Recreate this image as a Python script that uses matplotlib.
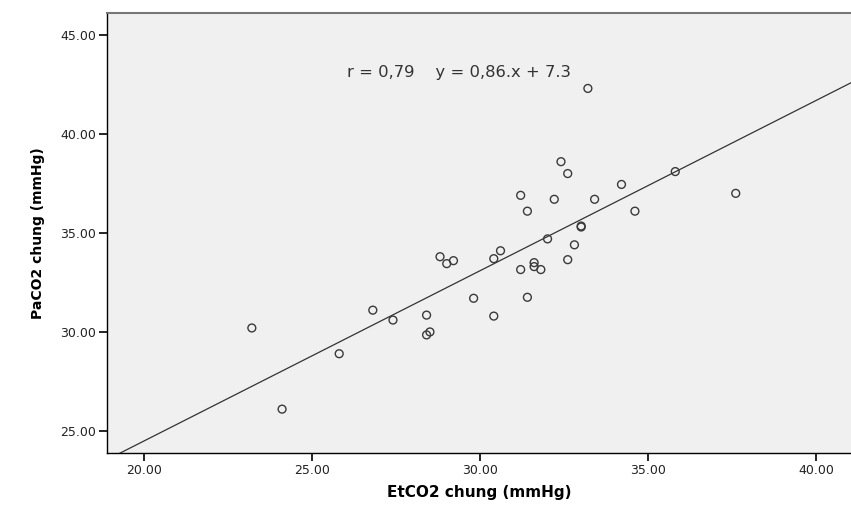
import matplotlib.pyplot as plt
import numpy as np

plt.rcParams['font.family'] = ['DejaVu Sans']

# EtCO2 (x) and PaCO2 (y), mmHg
etco2 = [23.2, 24.1, 25.8, 26.8, 27.4, 28.4, 28.5, 28.4, 28.8, 29.0, 29.2, 29.8,
         30.4, 30.4, 30.6, 31.2, 31.2, 31.4, 31.4, 31.6, 31.6, 31.8, 32.0, 32.2,
         32.4, 32.6, 32.6, 32.8, 33.0, 33.0, 33.2, 33.4, 34.2, 34.6, 35.8, 37.6]
paco2 = [30.2, 26.1, 28.9, 31.1, 30.6, 30.85, 30.0, 29.85, 33.8, 33.45, 33.6, 31.7,
         30.8, 33.7, 34.1, 33.15, 36.9, 36.1, 31.75, 33.5, 33.3, 33.15, 34.7, 36.7,
         38.6, 38.0, 33.65, 34.4, 35.35, 35.3, 42.3, 36.7, 37.45, 36.1, 38.1, 37.0]

slope = 0.86
intercept = 7.3
fit_label = "r = 0,79    y = 0,86.x + 7.3"

x_ticks = [20, 25, 30, 35, 40]
y_ticks = [25, 30, 35, 40, 45]

fig = plt.figure(figsize=(8.51, 5.05), dpi=100)
ax = fig.add_axes([107 / 851, 1 - 452.7 / 505, 1 - 107 / 851, (452.7 - 13) / 505])
ax.set_facecolor('#f0f0f0')

xlim = (18.89, 41.03)
ylim = (23.9, 46.11)

xs = np.array(xlim)
ax.plot(xs, slope * xs + intercept, color='#333333', linewidth=0.9, zorder=2)
ax.scatter(etco2, paco2, s=32, facecolors='none', edgecolors='#3a3a3a',
           linewidths=1.0, zorder=3)

ax.text(346.7 / 851, 1 - 73 / 505, fit_label, transform=fig.transFigure,
        fontsize=11.8, color='#333333', ha='left', va='center')

ax.set_xlim(xlim)
ax.set_ylim(ylim)
ax.set_xticks(x_ticks)
ax.set_yticks(y_ticks)
ax.set_xticklabels([f"{v:.2f}" for v in x_ticks])
ax.set_yticklabels([f"{v:.2f}" for v in y_ticks])
ax.tick_params(direction='out', length=6, width=1.2, labelsize=9, pad=2,
               colors='black', labelcolor='#222222')

ax.spines['right'].set_visible(False)
ax.spines['top'].set_color('#777777')
ax.spines['top'].set_linewidth(1.5)
ax.spines['left'].set_linewidth(1.0)
ax.spines['bottom'].set_linewidth(1.0)

ax.set_xlabel("EtCO2 chung (mmHg)", fontsize=11, fontweight='bold', labelpad=6)
ax.set_ylabel("PaCO2 chung (mmHg)", fontsize=10, fontweight='bold', labelpad=11)

fig.savefig('out.png', dpi=100)
